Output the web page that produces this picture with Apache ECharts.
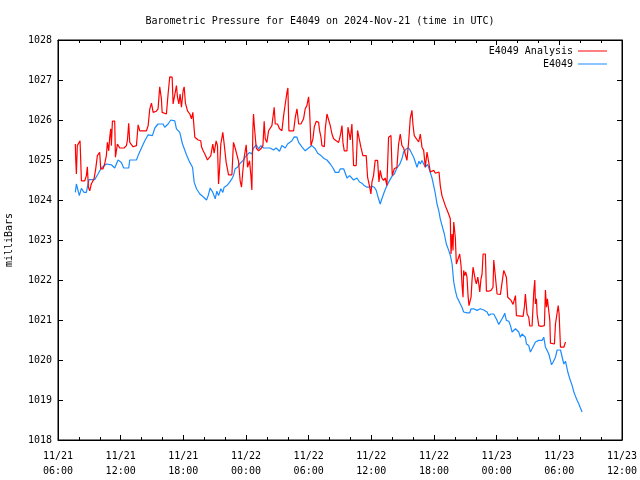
<!DOCTYPE html>
<html>
<head>
<meta charset="utf-8">
<script src="https://cdn.jsdelivr.net/npm/echarts@6/dist/echarts.min.js"></script>
<style>html,body{margin:0;padding:0;background:#fff}#c{width:640px;height:480px}</style>
</head>
<body>
<div id="c"></div>
<script>
// Hours since 2024-11-21 00:00 UTC
const redTimes = [7.66,7.69,7.76,7.85,7.98,8.11,8.17,8.24,8.56,8.72,8.81,8.91,9.04,9.19,9.45,9.61,9.77,9.99,10.09,10.31,10.47,10.63,10.73,10.86,10.95,11.05,11.11,11.21,11.43,11.50,11.69,11.91,12.33,12.55,12.65,12.77,12.87,13.19,13.51,13.67,13.83,13.99,14.47,14.63,14.79,14.95,15.11,15.42,15.58,15.74,15.90,15.97,16.16,16.38,16.54,16.70,16.93,17.02,17.18,17.34,17.44,17.57,17.69,17.82,17.98,18.08,18.20,18.40,18.62,18.78,18.91,19.10,19.42,19.67,19.74,19.90,20.06,20.31,
20.41,20.63,20.82,20.95,21.14,21.27,21.37,21.46,21.59,21.78,21.91,22.10,22.33,22.65,22.80,22.96,23.12,23.28,23.44,23.57,23.70,23.83,24.02,24.15,24.34,24.47,24.56,24.66,24.72,24.82,24.98,25.20,25.42,25.62,25.74,25.84,26.00,26.16,26.32,26.48,26.70,26.80,27.02,27.21,27.44,27.60,27.76,27.92,28.01,28.11,28.30,28.56,28.72,28.88,29.04,29.26,29.51,29.67,29.83,29.99,30.09,30.22,30.41,30.54,30.73,30.95,31.05,31.18,31.27,31.50,31.59,31.75,31.91,32.07,32.23,32.39,32.64,32.87,33.03,33.19,33.28,33.41,33.67,33.76,33.92,
33.98,34.14,34.23,34.30,34.55,34.68,34.87,35.00,35.19,35.51,35.64,35.83,35.96,36.06,36.21,36.37,36.60,36.73,36.85,37.01,37.17,37.33,37.49,37.65,37.88,38.00,38.20,38.45,38.61,38.77,38.93,39.09,39.25,39.41,39.57,39.73,39.89,39.98,40.11,40.30,40.53,40.69,40.85,41.01,41.17,41.33,41.49,41.65,41.81,41.97,42.13,42.29,42.48,42.60,42.76,42.92,43.08,43.24,43.40,43.56,
43.63,43.73,43.82,43.89,43.98,44.04,44.14,44.27,44.36,44.46,44.59,44.68,44.78,44.84,44.94,45.04,45.16,45.26,45.35,45.48,45.55,45.64,45.74,45.87,45.96,46.06,46.19,46.31,46.38,46.50,46.60,46.70,46.92,47.02,47.24,47.46,47.65,47.72,47.91,48.04,48.20,48.36,48.52,48.68,48.84,48.93,49.06,49.16,49.38,49.57,49.70,49.80,49.89,50.02,50.53,50.66,50.75,50.85,50.91,51.07,51.17,51.39,51.55,51.65,51.71,51.81,51.87,52.03,52.26,52.57,52.67,52.77,52.86,52.99,53.09,53.15,53.31,53.53,53.63,53.79,53.89,53.98,54.11,54.27,54.43,54.59];
const redValues = [1025.40,1025.07,1024.65,1025.36,1025.32,1025.48,1025.03,1024.48,1024.48,1024.61,1024.83,1024.32,1024.23,1024.40,1024.53,1024.78,1025.11,1025.19,1024.78,1024.78,1024.90,1025.11,1025.44,1025.23,1025.57,1025.78,1025.36,1025.97,1025.97,1025.07,1025.40,1025.30,1025.30,1025.36,1025.50,1025.92,1025.44,1025.33,1025.36,1025.88,1025.73,1025.72,1025.73,1025.86,1026.28,1026.42,1026.19,1026.22,1026.28,1026.83,1026.53,1026.19,1026.19,1026.15,1026.65,1027.08,1027.07,1026.40,1026.40,1026.86,1026.57,1026.40,1026.65,1026.32,1026.73,1026.83,1026.42,1026.23,1026.15,1026.03,1026.19,1025.57,1025.50,1025.48,1025.33,1025.23,1025.15,1025.00,
1025.00,1025.11,1025.40,1025.17,1025.48,1025.36,1024.40,1024.73,1025.40,1025.69,1025.40,1024.94,1024.63,1024.63,1025.44,1025.30,1025.28,1024.98,1024.48,1024.32,1024.73,1025.07,1025.38,1024.82,1024.98,1024.61,1024.25,1025.78,1026.15,1025.78,1025.30,1025.23,1025.28,1025.36,1025.97,1025.53,1025.44,1025.73,1025.78,1025.86,1026.32,1025.90,1025.90,1025.78,1025.73,1026.11,1026.40,1026.69,1026.80,1025.73,1025.78,1025.73,1026.07,1026.28,1025.90,1025.90,1026.03,1026.28,1026.36,1026.58,1026.23,1025.36,1025.53,1025.83,1025.97,1025.94,1025.73,1025.57,1025.36,1025.33,1025.78,1026.15,1026.11,1025.86,1025.65,1025.53,1025.48,1025.44,1025.61,1025.86,1025.44,1025.23,1025.23,1025.82,1025.61,
1025.50,1025.90,1025.92,1024.86,1024.86,1025.74,1025.70,1025.32,1025.11,1025.11,1024.57,1024.34,1024.15,1024.45,1024.61,1024.99,1024.99,1024.45,1024.74,1024.55,1024.49,1024.55,1024.36,1025.57,1025.61,1024.61,1024.78,1024.82,1025.40,1025.65,1025.36,1025.30,1025.25,1024.99,1025.45,1026.05,1026.24,1025.90,1025.61,1025.61,1025.45,1025.65,1025.32,1025.24,1024.82,1025.20,1025.15,1024.70,1024.65,1024.74,1024.67,1024.65,1024.70,1024.36,1024.11,1024.09,1023.86,1023.82,1023.65,1023.53,
1022.65,1023.15,1022.74,1023.45,1023.47,1023.07,1022.40,1022.36,1022.57,1022.65,1022.36,1021.90,1021.57,1022.24,1022.11,1022.20,1022.07,1021.61,1021.36,1021.32,1021.57,1021.99,1022.32,1022.32,1021.99,1021.90,1022.07,1021.86,1021.70,1022.03,1022.15,1022.65,1022.65,1021.72,1021.72,1021.74,1021.82,1022.50,1022.49,1021.65,1021.61,1021.64,1021.61,1022.24,1022.24,1022.07,1021.57,1021.53,1021.49,1021.39,1021.40,1021.61,1021.11,1021.07,1021.09,1021.34,1021.65,1021.65,1021.15,1021.07,1020.85,1020.85,1021.70,1022.00,1021.40,1021.53,1021.15,1020.86,1020.84,1020.86,1021.75,1021.32,1021.53,1021.57,1020.99,1020.42,1020.40,1020.40,1020.90,1020.95,1021.36,1021.15,1020.32,1020.28,1020.32,1020.45];

const blueTimes = [7.66,7.76,8.04,8.24,8.49,8.72,8.81,8.97,9.51,9.83,10.15,10.63,11.11,11.43,11.75,12.07,12.29,12.77,12.87,13.51,13.67,13.99,14.31,14.63,15.04,15.27,15.58,16.06,16.22,16.54,16.80,17.18,17.34,17.66,17.92,18.30,18.62,18.88,19.04,19.26,19.58,19.90,20.22,20.38,
20.57,20.82,21.05,21.21,21.37,21.59,21.78,21.91,22.17,22.42,22.65,22.80,22.96,23.19,23.44,23.70,23.92,24.08,24.34,24.56,24.72,24.98,25.20,25.42,25.68,26.32,26.64,26.89,27.21,27.44,27.76,27.98,28.17,28.40,28.62,28.88,29.04,29.35,29.67,29.99,30.31,30.63,30.86,31.18,31.50,31.75,32.07,32.33,32.55,32.87,33.03,33.35,33.51,33.67,33.92,
33.98,34.30,34.62,34.87,35.10,35.32,35.58,35.83,36.06,36.28,36.47,36.69,36.85,37.01,37.24,37.49,37.75,37.97,38.20,38.45,38.71,38.93,39.09,39.35,39.57,39.73,39.89,40.05,40.21,40.37,40.56,40.69,40.85,41.01,41.17,41.39,41.58,41.81,41.97,42.13,42.29,42.45,42.60,
42.77,42.99,43.18,43.41,43.57,43.73,43.89,44.04,44.20,44.36,44.52,44.68,44.84,45.16,45.42,45.55,45.80,46.12,46.28,46.44,46.76,47.08,47.24,47.46,47.72,47.88,48.04,48.20,48.36,48.52,48.68,48.77,48.93,49.16,49.32,49.48,49.64,49.80,49.96,50.11,50.27,50.43,50.59,50.75,50.85,51.07,51.23,51.39,51.55,51.71,51.87,52.03,52.35,52.51,52.67,52.83,52.99,53.15,53.25,53.41,53.53,53.63,53.79,53.95,54.11,54.27,54.43,54.59,54.68,54.81,55.00,55.23,55.39,55.55,55.71,55.87,56.02,56.18];
const blueValues = [1024.19,1024.40,1024.11,1024.29,1024.19,1024.19,1024.32,1024.51,1024.51,1024.65,1024.80,1024.90,1024.88,1024.80,1025.00,1024.94,1024.80,1024.80,1025.00,1025.00,1025.11,1025.30,1025.48,1025.63,1025.61,1025.80,1025.90,1025.90,1025.82,1025.90,1026.00,1025.98,1025.78,1025.69,1025.40,1025.13,1024.94,1024.82,1024.44,1024.28,1024.15,1024.08,1024.00,1024.11,
1024.30,1024.19,1024.03,1024.22,1024.11,1024.28,1024.19,1024.32,1024.36,1024.44,1024.53,1024.61,1024.78,1024.82,1024.92,1024.98,1025.07,1025.11,1025.19,1025.15,1025.30,1025.38,1025.28,1025.36,1025.30,1025.30,1025.25,1025.30,1025.22,1025.36,1025.30,1025.40,1025.36,1025.48,1025.58,1025.57,1025.44,1025.33,1025.23,1025.30,1025.36,1025.28,1025.17,1025.11,1025.03,1025.00,1024.90,1024.80,1024.69,1024.69,1024.78,1024.78,1024.73,1024.55,1024.61,
1024.59,1024.50,1024.55,1024.45,1024.42,1024.36,1024.32,1024.32,1024.34,1024.32,1024.24,1024.03,1023.90,1024.03,1024.20,1024.36,1024.49,1024.59,1024.65,1024.80,1024.89,1025.03,1025.20,1025.28,1025.30,1025.24,1025.22,1025.07,1024.95,1024.82,1024.97,1024.90,1024.99,1024.95,1024.82,1024.89,1024.74,1024.55,1024.36,1024.15,1023.90,1023.74,1023.53,
1023.36,1023.15,1022.90,1022.74,1022.61,1022.40,1021.95,1021.74,1021.57,1021.49,1021.40,1021.32,1021.20,1021.18,1021.18,1021.28,1021.28,1021.24,1021.20,1021.28,1021.25,1021.20,1021.11,1021.15,1021.15,1021.07,1020.99,1020.89,1020.92,1021.03,1021.11,1021.17,1020.99,1020.97,1020.86,1020.70,1020.67,1020.78,1020.78,1020.70,1020.57,1020.65,1020.68,1020.57,1020.40,1020.36,1020.20,1020.28,1020.32,1020.45,1020.40,1020.49,1020.49,1020.57,1020.32,1020.24,1020.15,1019.99,1019.88,1019.95,1019.99,1020.07,1020.25,1020.20,1020.25,1020.20,1019.90,1019.97,1019.86,1019.70,1019.53,1019.36,1019.20,1019.09,1018.99,1018.90,1018.80,1018.70];

const seriesNames = ['E4049 Analysis', 'E4049'];
const titleText = 'Barometric Pressure for E4049 on 2024-Nov-21 (time in UTC)';
const yName = 'milliBars';

const FONT = 'DejaVu Sans Mono';
const zip = (a, b) => a.map((t, i) => [t, b[i]]);

function xLabel(h) {
  const day = 21 + Math.floor(h / 24);
  const hh = h % 24;
  return '11/' + day + '\n' + String(hh).padStart(2, '0') + ':00';
}

const chart = echarts.init(document.getElementById('c'), null, {renderer: 'canvas'});
const xBase = {
  type: 'value', min: 6, max: 60, interval: 6,
  axisLine: {show: true, lineStyle: {color: '#000', width: 1}},
  axisTick: {show: true, inside: true, length: 5, lineStyle: {color: '#000'}},
  minorTick: {show: true, splitNumber: 3, length: 3, lineStyle: {color: '#000'}},
  splitLine: {show: false}
};
const yBase = {
  type: 'value', min: 1018, max: 1028, interval: 1,
  axisLine: {show: true, lineStyle: {color: '#000', width: 1}},
  axisTick: {show: true, inside: true, length: 5, lineStyle: {color: '#000'}},
  splitLine: {show: false}
};
chart.setOption({
  animation: false,
  backgroundColor: '#fff',
  title: {
    text: titleText, left: 'center', top: 11,
    textStyle: {fontFamily: FONT, fontSize: 10, fontWeight: 'normal', color: '#000'}
  },
  legend: [
    {data: [seriesNames[0]], right: 28, top: 41, align: 'right', icon: 'rect', itemWidth: 29, itemHeight: 1,
     textStyle: {fontFamily: FONT, fontSize: 10, color: '#000'}},
    {data: [seriesNames[1]], right: 28, top: 54, align: 'right', icon: 'rect', itemWidth: 29, itemHeight: 1,
     textStyle: {fontFamily: FONT, fontSize: 10, color: '#000'}}
  ],
  grid: {left: 58, right: 18, top: 40, bottom: 40, show: true, borderColor: '#000', borderWidth: 1,
         containLabel: false, outerBoundsMode: 'none'},
  xAxis: [
    Object.assign({}, xBase, {position: 'bottom',
      axisLabel: {formatter: xLabel, fontFamily: FONT, fontSize: 10, color: '#000', lineHeight: 15, margin: 9, showMaxLabel: true, showMinLabel: true}}),
    Object.assign({}, xBase, {position: 'top', axisLabel: {show: false}})
  ],
  yAxis: [
    Object.assign({}, yBase, {position: 'left',
      name: yName, nameLocation: 'middle', nameGap: 44, nameRotate: 90,
      nameTextStyle: {fontFamily: FONT, fontSize: 10, color: '#000'},
      axisLabel: {formatter: v => String(v), fontFamily: FONT, fontSize: 10, color: '#000', margin: 6}}),
    Object.assign({}, yBase, {position: 'right', axisLabel: {show: false}})
  ],
  series: [
    {name: seriesNames[0], type: 'line', data: zip(redTimes, redValues), showSymbol: false,
     lineStyle: {color: '#ff0000', width: 1.2}, itemStyle: {color: '#ff0000'}, z: 3},
    {name: seriesNames[1], type: 'line', data: zip(blueTimes, blueValues), showSymbol: false,
     lineStyle: {color: '#1a8cff', width: 1.2}, itemStyle: {color: '#1a8cff'}, z: 2}
  ]
});
</script>
</body>
</html>
